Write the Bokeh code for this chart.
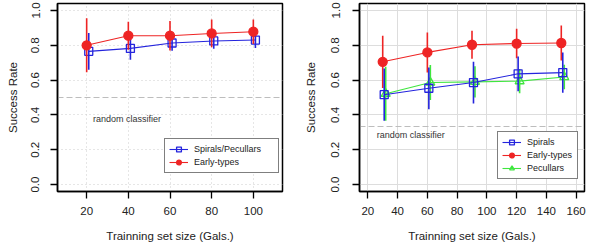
from bokeh.plotting import figure
from bokeh.layouts import row
from bokeh.models import FixedTicker, NumeralTickFormatter, Legend, LegendItem, Range1d, Label
from bokeh.core.properties import value
from bokeh.embed import file_html
from bokeh.resources import INLINE

FONT = "Liberation Sans"

# ---------------- data: left panel ----------------
left_x_early = [20, 40, 60, 80, 100]
left_early = [0.800, 0.855, 0.855, 0.868, 0.878]
left_early_err = [0.155, 0.080, 0.085, 0.080, 0.070]
left_x_sp = [21, 41, 61, 81, 101]
left_sp = [0.765, 0.782, 0.813, 0.825, 0.830]
left_sp_err = [0.105, 0.065, 0.045, 0.045, 0.045]
left_xticks = [20, 40, 60, 80, 100]
left_xrange = (6, 114)
left_random = 0.5

# ---------------- data: right panel ----------------
right_x_early = [30, 60, 90, 120, 150]
right_early = [0.705, 0.759, 0.803, 0.810, 0.813]
right_early_err = [0.150, 0.115, 0.080, 0.085, 0.100]
right_x_sp = [31, 61, 91, 121, 151]
right_sp = [0.516, 0.553, 0.586, 0.636, 0.643]
right_sp_err = [0.150, 0.120, 0.120, 0.100, 0.115]
right_x_pec = [32, 62, 92, 122, 152]
right_pec = [0.522, 0.586, 0.590, 0.594, 0.618]
right_pec_err = [0.155, 0.100, 0.090, 0.070, 0.070]
right_xticks = [20, 40, 60, 80, 100, 120, 140, 160]
right_xrange = (14.4, 165.6)
right_random = 1.0 / 3.0

y_ticks = [0.0, 0.2, 0.4, 0.6, 0.8, 1.0]
y_range = (-0.04, 1.04)

RED = "#ee2424"
BLUE = "#2424dd"
GREEN = "#3fe63f"
TXT = "#222222"
BOX = "#000000"


def base_fig(xr, xticks, border_left, border_right, lab_standoff, title_standoff, grid_dash):
    p = figure(width=300, height=245, output_backend="svg", toolbar_location=None,
               x_range=Range1d(*xr), y_range=Range1d(*y_range),
               min_border_left=border_left, min_border_right=border_right,
               min_border_top=3, min_border_bottom=54)
    p.outline_line_color = BOX
    p.outline_line_width = 1.5
    p.background_fill_color = "white"
    p.border_fill_color = "white"
    for ax in (p.xaxis[0], p.yaxis[0]):
        ax.axis_line_color = BOX
        ax.axis_line_width = 1.5
        ax.major_tick_line_color = BOX
        ax.major_tick_line_width = 1.3
        ax.major_tick_out = 7
        ax.major_tick_in = 0
        ax.minor_tick_line_color = None
        ax.major_label_text_font = FONT
        ax.major_label_text_font_size = "11.5px"
        ax.major_label_text_color = TXT
        ax.axis_label_text_font = FONT
        ax.axis_label_text_font_size = "11.5px"
        ax.axis_label_text_font_style = "normal"
        ax.axis_label_text_color = TXT
    p.xaxis.ticker = FixedTicker(ticks=xticks)
    p.yaxis.ticker = FixedTicker(ticks=y_ticks)
    p.yaxis.formatter = NumeralTickFormatter(format="0.0")
    p.yaxis.major_label_orientation = "parallel"
    p.xaxis.axis_label = "Trainning set size (Gals.)"
    p.yaxis.axis_label = "Success Rate"
    p.xaxis.major_label_standoff = 8
    p.xaxis.axis_label_standoff = 12
    p.yaxis.major_label_standoff = lab_standoff
    p.yaxis.axis_label_standoff = title_standoff
    for g in (p.xgrid[0], p.ygrid[0]):
        g.grid_line_color = "#dddddd" if grid_dash == "solid" else "#cdcdcd"
        g.grid_line_dash = grid_dash
        g.grid_line_width = 1
    return p


def series(p, xs, ys, errs, color, marker, size, fill):
    lo = [y - e for y, e in zip(ys, errs)]
    hi = [y + e for y, e in zip(ys, errs)]
    p.segment(x0=xs, y0=lo, x1=xs, y1=hi, line_color=color, line_width=1.6)
    ln = p.line(xs, ys, line_color=color, line_width=1.1)
    sc = p.scatter(xs, ys, marker=marker, size=size, line_color=color, line_width=1.3,
                   fill_color=color if fill else None)
    return [ln, sc]


def add_legend(p, items, loc, label_width):
    leg = Legend(items=items, location=loc, border_line_color=BOX, border_line_width=1,
                 background_fill_color="white", background_fill_alpha=1.0,
                 label_text_font=FONT, label_text_font_size="9px", label_text_color=TXT,
                 glyph_height=12, glyph_width=19, label_height=12, label_width=label_width,
                 label_standoff=6, spacing=1, padding=4, margin=0)
    p.add_layout(leg, "center")


def random_line(p, xr, yv):
    p.segment(x0=[xr[0]], x1=[xr[1]], y0=[yv], y1=[yv],
              line_color="#bdbdbd", line_dash="6 3", line_width=1)


# ---------------- left panel (label as annotation, dotted grid) ----------------
p1 = base_fig(left_xrange, left_xticks, 57, 18, 11, 10, "1 3")
random_line(p1, left_xrange, left_random)
p1.add_layout(Label(x=23.0, y=0.376, text="random classifier", text_font=FONT,
                    text_font_size="9px", text_color="#333333",
                    text_baseline="middle", text_align="left"))
r_sp1 = series(p1, left_x_sp, left_sp, left_sp_err, BLUE, "square", 8, False)
r_et1 = series(p1, left_x_early, left_early, left_early_err, RED, "circle", 9, True)
add_legend(p1, [LegendItem(label="Spirals/Pecullars", renderers=r_sp1),
                LegendItem(label="Early-types", renderers=r_et1)], (107, 18), 80)

# ---------------- right panel (text glyph, solid light grid) ----------------
p2 = base_fig(right_xrange, right_xticks, 59, 16, 13, 12, "solid")
random_line(p2, right_xrange, right_random)
p2.text(x=[26.0], y=[0.282], text=["random classifier"], text_font=value(FONT),
        text_font_size="9px", text_color="#333333", text_baseline="middle", text_align="left")
r_et2 = series(p2, right_x_early, right_early, right_early_err, RED, "circle", 9, True)
r_pec2 = series(p2, right_x_pec, right_pec, right_pec_err, GREEN, "triangle", 9, False)
r_sp2 = series(p2, right_x_sp, right_sp, right_sp_err, BLUE, "square", 8, False)
add_legend(p2, [LegendItem(label="Spirals", renderers=r_sp2),
                LegendItem(label="Early-types", renderers=r_et2),
                LegendItem(label="Pecullars", renderers=r_pec2)], (138, 12), 46)

layout = row(p1, p2, spacing=0)
open("out.html", "w").write(file_html(layout, INLINE))
